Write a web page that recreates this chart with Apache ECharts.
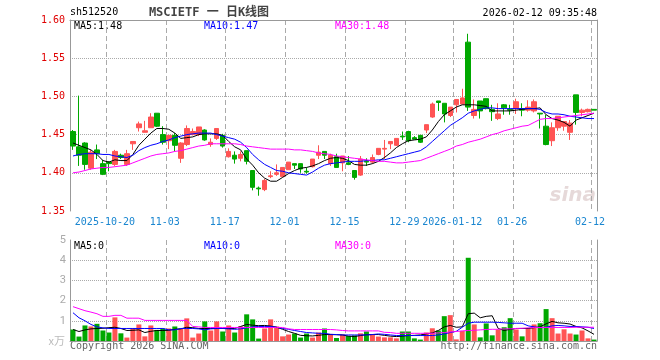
<!DOCTYPE html>
<html><head><meta charset="utf-8">
<script src="https://cdn.jsdelivr.net/npm/echarts@6/dist/echarts.min.js"></script>
<style>html,body{margin:0;padding:0;background:#fff}#c{width:660px;height:360px}</style>
</head><body><div id="c"></div>
<script>
const dates = [
'2025-10-10','2025-10-13','2025-10-14','2025-10-15','2025-10-16','2025-10-17','2025-10-20','2025-10-21','2025-10-22','2025-10-23','2025-10-24','2025-10-27','2025-10-28','2025-10-29','2025-10-30','2025-10-31',
'2025-11-03','2025-11-04','2025-11-05','2025-11-06','2025-11-07','2025-11-10','2025-11-11','2025-11-12','2025-11-13','2025-11-14','2025-11-17','2025-11-18','2025-11-19','2025-11-20','2025-11-21','2025-11-24','2025-11-25','2025-11-26','2025-11-27','2025-11-28',
'2025-12-01','2025-12-02','2025-12-03','2025-12-04','2025-12-05','2025-12-08','2025-12-09','2025-12-10','2025-12-11','2025-12-12','2025-12-15','2025-12-16','2025-12-17','2025-12-18','2025-12-19','2025-12-22','2025-12-23','2025-12-24','2025-12-25','2025-12-26','2025-12-29','2025-12-30','2025-12-31',
'2026-01-05','2026-01-06','2026-01-07','2026-01-08','2026-01-09','2026-01-12','2026-01-13','2026-01-14','2026-01-15','2026-01-16','2026-01-19','2026-01-20','2026-01-21','2026-01-22','2026-01-23','2026-01-26','2026-01-27','2026-01-28','2026-01-29','2026-01-30',
'2026-02-02','2026-02-03','2026-02-04','2026-02-05','2026-02-06','2026-02-09','2026-02-10','2026-02-11','2026-02-12'];
const tickDates = ['2025-10-20','2025-11-03','2025-11-17','2025-12-01','2025-12-15','2025-12-29','2026-01-12','2026-01-26','2026-02-12'];
const tickTexts = ['2025-10-20','11-03','11-17','12-01','12-15','12-29','2026-01-12','01-26','02-12'];
const opens = [1.454,1.434,1.439,1.406,1.430,1.412,1.414,1.411,1.423,1.411,1.438,1.459,1.453,1.459,1.478,1.450,1.442,1.449,1.419,1.437,1.450,1.450,1.456,1.437,1.445,1.449,1.421,1.423,1.419,1.429,1.403,1.380,1.378,1.395,1.398,1.395,1.404,1.412,1.412,1.402,1.408,1.423,1.428,1.412,1.421,1.413,1.413,1.403,1.397,1.415,1.414,1.424,1.431,1.438,1.436,1.448,1.454,1.446,1.449,1.456,1.473,1.494,1.491,1.475,1.489,1.490,1.571,1.475,1.494,1.497,1.483,1.471,1.489,1.483,1.484,1.484,1.482,1.481,1.478,1.461,1.442,1.459,1.461,1.453,1.502,1.479,1.480,1.483];
const closes = [1.435,1.423,1.411,1.427,1.425,1.398,1.412,1.428,1.420,1.425,1.441,1.464,1.455,1.473,1.461,1.440,1.449,1.436,1.439,1.458,1.454,1.460,1.443,1.440,1.458,1.435,1.428,1.418,1.424,1.415,1.381,1.379,1.390,1.396,1.400,1.407,1.414,1.410,1.405,1.401,1.418,1.427,1.423,1.423,1.407,1.422,1.411,1.394,1.418,1.414,1.420,1.432,1.432,1.441,1.445,1.447,1.442,1.444,1.440,1.463,1.490,1.492,1.477,1.486,1.496,1.498,1.486,1.483,1.481,1.484,1.480,1.477,1.485,1.482,1.493,1.482,1.486,1.493,1.477,1.437,1.459,1.474,1.467,1.465,1.479,1.482,1.483,1.482];
const lows = [1.430,1.409,1.404,1.404,1.418,1.397,1.402,1.409,1.418,1.409,1.430,1.454,1.453,1.459,1.460,1.437,1.431,1.428,1.413,1.435,1.449,1.448,1.442,1.434,1.443,1.433,1.420,1.412,1.415,1.411,1.377,1.370,1.376,1.393,1.396,1.394,1.404,1.405,1.400,1.399,1.407,1.418,1.418,1.409,1.407,1.402,1.410,1.391,1.396,1.409,1.412,1.423,1.418,1.431,1.435,1.443,1.440,1.444,1.439,1.452,1.472,1.481,1.466,1.473,1.479,1.490,1.481,1.471,1.471,1.483,1.468,1.469,1.476,1.476,1.477,1.474,1.480,1.479,1.458,1.436,1.435,1.455,1.455,1.443,1.463,1.474,1.479,1.482];
const highs = [1.456,1.501,1.440,1.430,1.437,1.417,1.415,1.430,1.425,1.430,1.441,1.467,1.468,1.478,1.478,1.461,1.449,1.452,1.440,1.462,1.458,1.460,1.457,1.445,1.458,1.451,1.432,1.428,1.428,1.429,1.403,1.382,1.392,1.402,1.411,1.407,1.414,1.412,1.412,1.407,1.418,1.436,1.428,1.425,1.425,1.422,1.422,1.403,1.422,1.419,1.424,1.432,1.443,1.441,1.445,1.454,1.455,1.448,1.449,1.463,1.492,1.494,1.491,1.486,1.496,1.510,1.582,1.496,1.494,1.497,1.489,1.491,1.490,1.489,1.497,1.491,1.495,1.496,1.478,1.476,1.466,1.474,1.467,1.469,1.502,1.484,1.484,1.483];
const ma5 = [1.439,1.436,1.433,1.430,1.424,1.416,1.414,1.417,1.416,1.416,1.424,1.436,1.444,1.452,1.458,1.458,1.457,1.452,1.445,1.446,1.447,1.450,1.451,1.451,1.451,1.449,1.441,1.434,1.430,1.418,1.410,1.400,1.393,1.389,1.389,1.394,1.399,1.403,1.406,1.407,1.409,1.412,1.416,1.419,1.420,1.419,1.416,1.411,1.410,1.410,1.412,1.415,1.420,1.426,1.433,1.438,1.442,1.443,1.444,1.447,1.456,1.467,1.476,1.481,1.486,1.489,1.489,1.489,1.488,1.487,1.481,1.481,1.481,1.481,1.482,1.483,1.484,1.484,1.485,1.476,1.471,1.469,1.466,1.461,1.469,1.472,1.475,1.478];
const ma10 = [1.422,1.424,1.425,1.425,1.425,1.424,1.424,1.422,1.421,1.420,1.423,1.429,1.433,1.436,1.438,1.441,1.443,1.446,1.448,1.450,1.451,1.452,1.452,1.452,1.450,1.448,1.446,1.444,1.440,1.433,1.424,1.417,1.411,1.407,1.403,1.402,1.400,1.399,1.398,1.397,1.401,1.406,1.410,1.412,1.413,1.414,1.415,1.415,1.415,1.416,1.416,1.417,1.417,1.419,1.421,1.423,1.425,1.427,1.429,1.434,1.441,1.448,1.455,1.462,1.467,1.472,1.478,1.481,1.483,1.485,1.485,1.484,1.484,1.484,1.484,1.484,1.484,1.484,1.483,1.479,1.477,1.477,1.476,1.474,1.473,1.472,1.471,1.471];
const ma30 = [1.400,1.401,1.403,1.405,1.406,1.407,1.407,1.408,1.409,1.410,1.413,1.416,1.419,1.422,1.424,1.425,1.426,1.428,1.429,1.431,1.433,1.435,1.436,1.438,1.438,1.438,1.438,1.438,1.437,1.435,1.434,1.433,1.432,1.431,1.431,1.431,1.431,1.430,1.430,1.429,1.428,1.426,1.425,1.424,1.422,1.421,1.420,1.419,1.418,1.417,1.416,1.415,1.415,1.414,1.413,1.413,1.414,1.415,1.416,1.419,1.422,1.425,1.428,1.431,1.435,1.437,1.440,1.442,1.444,1.447,1.450,1.452,1.455,1.457,1.459,1.461,1.462,1.466,1.470,1.471,1.471,1.472,1.473,1.474,1.475,1.476,1.477,1.478];
const volumes = [0.57,0.22,0.77,0.72,0.85,0.52,0.42,1.17,0.38,0.17,0.62,0.82,0.23,0.77,0.55,0.62,0.62,0.72,0.60,1.12,0.17,0.37,0.97,0.52,0.97,0.47,0.77,0.42,0.72,1.32,1.07,0.12,0.62,1.07,0.72,0.23,0.32,0.37,0.17,0.37,0.17,0.42,0.62,0.35,0.15,0.32,0.25,0.28,0.38,0.47,0.33,0.22,0.18,0.18,0.13,0.47,0.47,0.13,0.07,0.42,0.63,0.52,1.23,1.28,0.08,0.50,4.12,0.82,0.18,0.87,0.28,0.57,0.68,1.13,0.57,0.23,0.62,0.82,0.88,1.58,1.13,0.37,0.58,0.37,0.32,0.52,0.13,0.07];
const vma5 = [0.57,0.47,0.55,0.60,0.62,0.63,0.66,0.68,0.62,0.52,0.53,0.55,0.42,0.48,0.52,0.52,0.53,0.58,0.60,0.68,0.66,0.62,0.62,0.62,0.62,0.62,0.62,0.62,0.72,0.82,0.78,0.76,0.77,0.74,0.68,0.58,0.47,0.38,0.28,0.26,0.25,0.28,0.32,0.32,0.31,0.30,0.24,0.22,0.27,0.31,0.32,0.32,0.28,0.24,0.22,0.24,0.27,0.28,0.30,0.35,0.40,0.52,0.70,0.77,0.68,0.70,1.35,1.38,1.15,1.22,1.25,0.62,0.52,0.58,0.62,0.62,0.62,0.66,0.70,0.85,0.97,0.90,0.88,0.84,0.72,0.65,0.50,0.33];
const vma10 = [1.40,1.15,1.00,0.82,0.70,0.65,0.62,0.62,0.62,0.62,0.62,0.62,0.62,0.62,0.62,0.62,0.55,0.55,0.62,0.62,0.62,0.60,0.55,0.60,0.62,0.62,0.60,0.58,0.60,0.65,0.70,0.72,0.72,0.72,0.68,0.62,0.58,0.52,0.47,0.42,0.40,0.38,0.38,0.33,0.32,0.30,0.30,0.30,0.30,0.30,0.32,0.35,0.33,0.30,0.27,0.27,0.27,0.27,0.27,0.27,0.27,0.30,0.35,0.42,0.48,0.68,0.88,0.93,0.93,0.93,0.93,0.92,0.90,0.88,0.88,0.88,0.75,0.70,0.66,0.68,0.75,0.77,0.75,0.72,0.72,0.70,0.68,0.62];
const vma30 = [1.70,1.60,1.50,1.43,1.35,1.22,1.22,1.27,1.27,1.13,1.13,1.13,1.02,1.02,1.02,1.02,1.02,1.02,1.02,1.02,0.72,0.70,0.67,0.67,0.67,0.67,0.67,0.67,0.67,0.67,0.67,0.67,0.67,0.67,0.67,0.67,0.60,0.57,0.57,0.57,0.57,0.57,0.57,0.57,0.55,0.52,0.50,0.50,0.50,0.50,0.50,0.50,0.43,0.42,0.38,0.38,0.38,0.38,0.38,0.38,0.38,0.40,0.42,0.45,0.47,0.50,0.52,0.53,0.55,0.57,0.58,0.58,0.60,0.60,0.62,0.63,0.65,0.67,0.67,0.67,0.67,0.67,0.67,0.67,0.68,0.68,0.68,0.68];
const priceTicks = {min: 1.35, max: 1.60, interval: 0.05};
const volTicks = {min: 0, max: 5, interval: 1};

const RED = '#ff5454', GREEN = '#00a800', BORDER = '#999';
const MONO = '"DejaVu Sans Mono","Liberation Mono","Noto Sans CJK SC",monospace';
const tickFn = (idx) => tickDates.indexOf(dates[idx]) >= 0;

const candleData = dates.map((d, i) => [opens[i], closes[i], lows[i], highs[i]]);
const volData = volumes.map((v, i) => ({value: v, itemStyle: {color: closes[i] >= opens[i] ? RED : GREEN}}));

const chart = echarts.init(document.getElementById('c'), null, {renderer: 'canvas'});
const splitX = {show: true, interval: tickFn, lineStyle: {color: '#aaa', type: [5, 3], width: 1}};
const dotted = {show: true, showMinLine: false, showMaxLine: false, lineStyle: {color: '#aaa', type: [1, 1], width: 1}};
const line = (name, data, color, xi, yi) => ({
  name, type: 'line', data, xAxisIndex: xi, yAxisIndex: yi, symbol: 'none', smooth: false,
  lineStyle: {color, width: 1}, silent: true, animation: false, z: 5
});
const frameX = (gi) => ({type: 'category', gridIndex: gi, data: dates, position: 'top', boundaryGap: true,
  axisLine: {show: true, lineStyle: {color: BORDER, width: 1}}, axisTick: {show: false}, axisLabel: {show: false}, splitLine: {show: false}});
const frameY = (gi, t) => ({type: 'value', gridIndex: gi, position: 'right', min: t.min, max: t.max, interval: t.interval,
  axisLine: {show: true, lineStyle: {color: BORDER, width: 1}}, axisTick: {show: false}, axisLabel: {show: false}, splitLine: {show: false}});
chart.setOption({
  animation: false,
  backgroundColor: '#fff',
  grid: [
    {left: 70, top: 20, width: 527, height: 191},
    {left: 70, top: 240, width: 527, height: 101}
  ],
  xAxis: [
    {type: 'category', gridIndex: 0, data: dates, boundaryGap: true,
     axisLine: {show: false}, axisTick: {show: false},
     axisLabel: {interval: tickFn, formatter: v => tickTexts[tickDates.indexOf(v)], color: '#1a86d0',
       fontFamily: MONO, fontSize: 10, margin: 6, padding: [0, 8, 0, 0]},
     splitLine: splitX},
    {type: 'category', gridIndex: 1, data: dates, boundaryGap: true,
     axisLine: {show: false}, axisTick: {show: false}, axisLabel: {show: false},
     splitLine: splitX},
    frameX(0), frameX(1)
  ],
  yAxis: [
    {type: 'value', gridIndex: 0, min: priceTicks.min, max: priceTicks.max, interval: priceTicks.interval,
     axisLine: {show: true, lineStyle: {color: BORDER, width: 1}}, axisTick: {show: false},
     axisLabel: {color: '#e00000', fontFamily: MONO, fontSize: 10, margin: 5, formatter: v => v.toFixed(2)},
     splitLine: dotted},
    {type: 'value', gridIndex: 1, min: volTicks.min, max: volTicks.max, interval: volTicks.interval,
     axisLine: {show: true, lineStyle: {color: BORDER, width: 1}}, axisTick: {show: false},
     axisLabel: {color: '#aaa', fontFamily: 'Roboto, sans-serif', fontSize: 11, margin: 4,
       formatter: v => v === 0 ? '' : String(v)},
     splitLine: dotted},
    frameY(0, priceTicks), frameY(1, volTicks)
  ],
  series: [
    {type: 'candlestick', data: candleData, xAxisIndex: 0, yAxisIndex: 0, barWidth: 5, z: 3,
     itemStyle: {color: RED, color0: GREEN, borderColor: RED, borderColor0: GREEN, borderWidth: 1}, silent: true},
    line('MA5', ma5, '#000000', 0, 0),
    line('MA10', ma10, '#0000ff', 0, 0),
    line('MA30', ma30, '#ff00ff', 0, 0),
    {type: 'bar', data: volData, xAxisIndex: 1, yAxisIndex: 1, barWidth: 5, silent: true, z: 3},
    line('VMA5', vma5, '#000000', 1, 1),
    line('VMA10', vma10, '#0000ff', 1, 1),
    line('VMA30', vma30, '#ff00ff', 1, 1)
  ],
  graphic: [
    {type: 'text', left: 70, top: 7, style: {text: 'sh512520', font: '10px ' + MONO, fill: '#000'}},
    {type: 'text', x: 209, y: 13, style: {text: 'MSCIETF 一 日K线图', font: 'bold 12px ' + MONO, fill: '#444', align: 'center', verticalAlign: 'middle'}},
    {type: 'text', x: 597, y: 13, style: {text: '2026-02-12 09:35:48', font: '10px ' + MONO, fill: '#000', align: 'right', verticalAlign: 'middle'}},
    {type: 'text', x: 74, y: 26, style: {text: 'MA5:' + ma5[ma5.length-1].toFixed(2), font: '10px ' + MONO, fill: '#000', verticalAlign: 'middle'}},
    {type: 'text', x: 204, y: 26, style: {text: 'MA10:' + ma10[ma10.length-1].toFixed(2), font: '10px ' + MONO, fill: '#0000ff', verticalAlign: 'middle'}},
    {type: 'text', x: 335, y: 26, style: {text: 'MA30:' + ma30[ma30.length-1].toFixed(2), font: '10px ' + MONO, fill: '#ff00ff', verticalAlign: 'middle'}},
    {type: 'text', x: 74, y: 246, style: {text: 'MA5:0', font: '10px ' + MONO, fill: '#000', verticalAlign: 'middle'}},
    {type: 'text', x: 204, y: 246, style: {text: 'MA10:0', font: '10px ' + MONO, fill: '#0000ff', verticalAlign: 'middle'}},
    {type: 'text', x: 335, y: 246, style: {text: 'MA30:0', font: '10px ' + MONO, fill: '#ff00ff', verticalAlign: 'middle'}},
    {type: 'text', x: 65, y: 341, style: {text: 'x万', font: '11px "Noto Sans CJK SC", sans-serif', fill: '#bbb', align: 'right', verticalAlign: 'middle'}},
    {type: 'text', x: 70, y: 346, style: {text: 'Copyright 2026 SINA.COM', font: '10px ' + MONO, fill: '#666', verticalAlign: 'middle'}},
    {type: 'text', x: 597, y: 346, style: {text: 'http://finance.sina.com.cn', font: '10px ' + MONO, fill: '#666', align: 'right', verticalAlign: 'middle'}},
    {type: 'text', x: 596, y: 196, z: 0, style: {text: 'sina', font: 'italic bold 20px "DejaVu Sans", sans-serif', fill: 'rgba(200,170,170,0.45)', align: 'right', verticalAlign: 'middle'}}
  ]
});
</script></body></html>
